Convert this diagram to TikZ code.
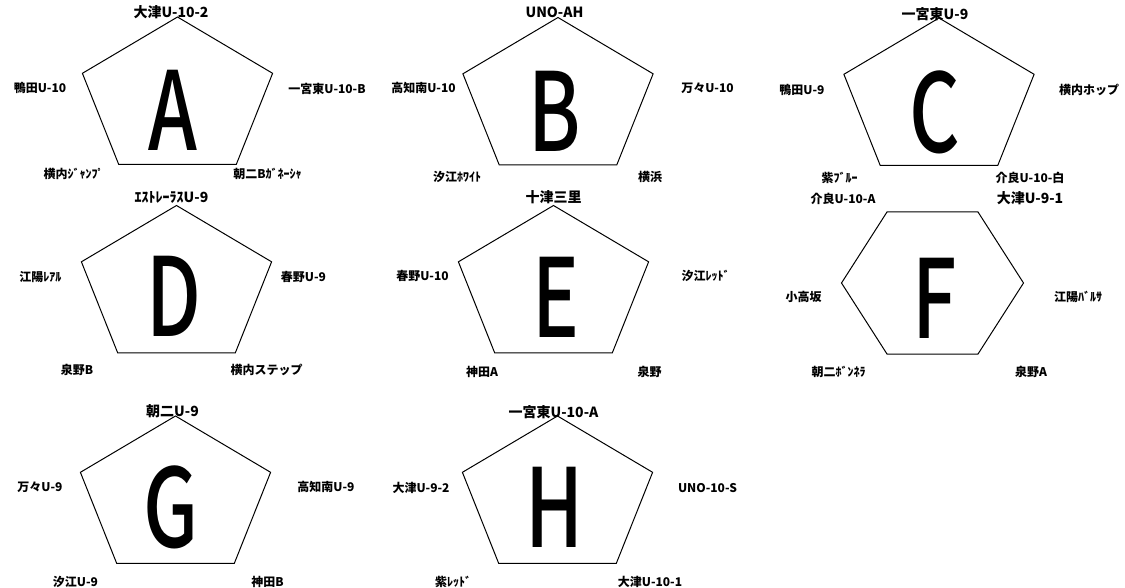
\documentclass[tikz,border=0pt]{standalone}
\usepackage{fontspec}
\setmainfont{Noto Sans CJK JP}
\newfontfamily\letterfont{Noto Sans CJK JP}[UprightFont=* Medium]

\begin{document}
\begin{tikzpicture}[
		x=1pt, y=-1pt
		,lbl/.style={font=\fontsize{12}{12}\selectfont\bfseries, inner sep=0pt}
		,toplbl/.style={lbl, font=\fontsize{14}{14}\selectfont\bfseries}
		,big/.style={font=\fontsize{109}{109}\letterfont, inner sep=0pt}
		,outline/.style={draw, line width=1pt, line join=miter}
	]
		\useasboundingbox (0,0) rectangle (1125,588);

		% shape centres
		\coordinate (A) at (177.5,98.5);
		\coordinate (B) at (558,99);
		\coordinate (C) at (939,99.5);
		\coordinate (D) at (176.5,287);
		\coordinate (E) at (553.5,287);
		\coordinate (F) at (932.5,283);
		\coordinate (G) at (175.5,497.5);
		\coordinate (H) at (557.5,497.5);

		\foreach \c in {A,B,C,D,E,G,H}
			\draw[outline] (\c) +(270:100 and 81.5) -- +(342:100 and 81.5) -- +(54:100 and 81.5)
				-- +(126:100 and 81.5) -- +(198:100 and 81.5) -- cycle;
		\draw[outline] (F) +(0:91 and 82) -- +(60:91 and 82) -- +(120:91 and 82)
			-- +(180:91 and 82) -- +(240:91 and 82) -- +(300:91 and 82) -- cycle;

		% letters
		\node[big] (A-let) at (172.5,110.5) {\scalebox{0.72}[1]{A}};
		\node[big] (B-let) at (555,111) {\scalebox{0.72}[1]{B}};
		\node[big] (C-let) at (935,112.5) {\scalebox{0.72}[1]{C}};
		\node[big] (D-let) at (174,296.5) {\scalebox{0.72}[1]{D}};
		\node[big] (E-let) at (556,297.5) {\scalebox{0.72}[1]{E}};
		\node[big] (F-let) at (935,298.5) {\scalebox{0.72}[1]{F}};
		\node[big] (G-let) at (171.5,507) {\scalebox{0.72}[1]{G}};
		\node[big] (H-let) at (554.5,507.5) {\scalebox{0.72}[1]{H}};

		% A
		\node[toplbl] (A-t) at (171,12) {大津U-10-2};
		\node[lbl] (A-l) at (40,88) {鴨田U-10};
		\node[lbl] (A-r) at (327,89) {一宮東U-10-B};
		\node[lbl] (A-ll) at (73.5,174) {横内ｼﾞｬﾝﾌﾟ};
		\node[lbl] (A-lr) at (267.5,174) {朝二Bｶﾞﾈｰｼｬ};
		% B
		\node[toplbl] (B-t) at (554.5,12) {UNO-AH};
		\node[lbl] (B-l) at (423.5,88) {高知南U-10};
		\node[lbl] (B-r) at (707.5,88) {万々U-10};
		\node[lbl] (B-ll) at (457,177) {汐江ﾎﾜｲﾄ};
		\node[lbl] (B-lr) at (650,177) {横浜};
		% C
		\node[toplbl] (C-t) at (935,14) {一宮東U-9};
		\node[lbl] (C-l) at (802,90) {鴨田U-9};
		\node[lbl] (C-r) at (1089,90) {横内ホップ};
		\node[lbl] (C-ll) at (839.5,178) {紫ﾌﾞﾙｰ};
		\node[lbl] (C-lr) at (1030,178) {介良U-10-白};
		% D
		\node[toplbl] (D-t) at (171.5,197) {ｴｽﾄﾚｰﾗｽU-9};
		\node[lbl] (D-l) at (40.5,277) {江陽ﾚｱﾙ};
		\node[lbl] (D-r) at (303.5,277) {春野U-9};
		\node[lbl] (D-ll) at (77,370) {泉野B};
		\node[lbl] (D-lr) at (266.5,370) {横内ステップ};
		% E
		\node[toplbl] (E-t) at (553.5,197) {十津三里};
		\node[lbl] (E-l) at (422.5,276) {春野U-10};
		\node[lbl] (E-r) at (705.5,276) {汐江ﾚｯﾄﾞ};
		\node[lbl] (E-ll) at (482,372) {神田A};
		\node[lbl] (E-lr) at (649.5,372) {泉野};
		% F
		\node[lbl] (F-tl) at (843,199) {介良U-10-A};
		\node[toplbl] (F-tr) at (1030,198) {大津U-9-1};
		\node[lbl] (F-l) at (803.5,297) {小高坂};
		\node[lbl] (F-r) at (1078,297) {江陽ﾊﾞﾙｻ};
		\node[lbl] (F-bl) at (838.5,372) {朝二ﾎﾞﾝﾈﾗ};
		\node[lbl] (F-br) at (1031,372) {泉野A};
		% G
		\node[toplbl] (G-t) at (172.5,411) {朝二U-9};
		\node[lbl] (G-l) at (40,487) {万々U-9};
		\node[lbl] (G-r) at (326,487) {高知南U-9};
		\node[lbl] (G-ll) at (75.5,582) {汐江U-9};
		\node[lbl] (G-lr) at (267.5,582) {神田B};
		% H
		\node[toplbl] (H-t) at (553.5,412) {一宮東U-10-A};
		\node[lbl] (H-l) at (421,488) {大津U-9-2};
		\node[lbl] (H-r) at (707.5,488) {UNO-10-S};
		\node[lbl] (H-ll) at (453,582) {紫ﾚｯﾄﾞ};
		\node[lbl] (H-lr) at (650,582) {大津U-10-1};
	\end{tikzpicture}
\end{document}
